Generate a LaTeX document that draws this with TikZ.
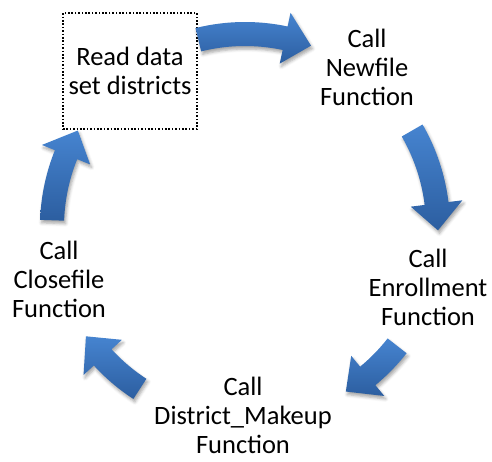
\documentclass[tikz,border=0pt]{standalone}
\usepackage{fontspec}
\setmainfont{Carlito}
\usepackage{tikz}
\usetikzlibrary{shadows.blur}
\definecolor{arrowtop}{RGB}{70,132,208}
\definecolor{arrowbot}{RGB}{44,94,160}
\tikzstyle{step text} = [align=center, font=\fontsize{26.5}{29}\selectfont]
\tikzstyle{readbox} = [rectangle, minimum width=134, minimum height=116, align=center, draw=black, line width=1.7pt, dash pattern=on 1.7pt off 1.7pt, font=\fontsize{26.5}{29}\selectfont]
\tikzstyle{blockarrow} = [top color=arrowtop, bottom color=arrowbot, blur shadow={shadow xshift=1.5pt, shadow yshift=-3pt, shadow blur radius=3pt, shadow opacity=35}]

% curved block arrow on the cycle, from angle #1 round to angle #2
\newcommand{\cycarrow}[2]{%
  \path[blockarrow] ({#1}:205) arc[start angle={#1}, end angle={#2+8}, radius=205]
    -- ({#2+8}:219) -- ({#2}:193) -- ({#2+8}:167) -- ({#2+8}:181)
    arc[start angle={#2+8}, end angle={#1}, radius=181] -- cycle;}

\begin{document}
\begin{tikzpicture}[x=1pt, y=1pt]
\useasboundingbox (-245,-234) rectangle (247,227);

\node (read) [readbox] at (-115,156) {Read data\\set districts};
\node (newfile) [step text] at (122,160) {Call\\Newfile\\Function};
\node (enroll) [step text] at (183,-60) {Call\\Enrollment\\Function};
\node (makeup) [step text] at (-2,-188) {Call\\District\_Makeup\\Function};
\node (closefile) [step text] at (-186,-52) {Call\\Closefile\\Function};

\cycarrow{104}{70}
\cycarrow{30}{-1}
\cycarrow{-38}{-58.5}
\cycarrow{-123}{-145.5}
\cycarrow{178}{150}
\end{tikzpicture}
\end{document}
